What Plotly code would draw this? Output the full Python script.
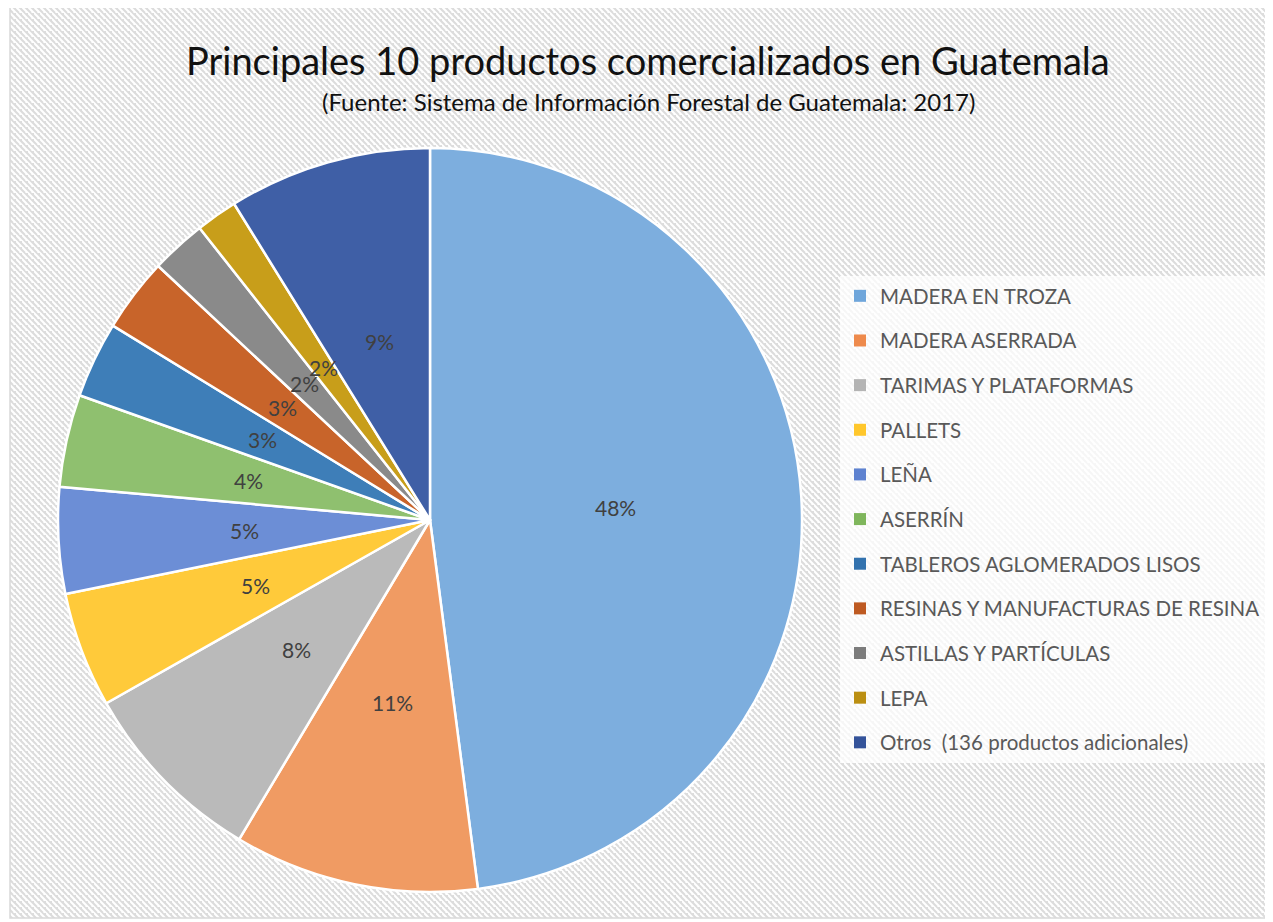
import plotly.graph_objects as go
import base64
import math

# ---- data ----
categories = [
    "MADERA EN TROZA",
    "MADERA ASERRADA",
    "TARIMAS Y PLATAFORMAS",
    "PALLETS",
    "LEÑA",
    "ASERRÍN",
    "TABLEROS AGLOMERADOS LISOS",
    "RESINAS Y MANUFACTURAS DE RESINA",
    "ASTILLAS Y PARTÍCULAS",
    "LEPA",
    "Otros  (136 productos adicionales)",
]
shares = [47.8, 10.6, 8.2, 5.0, 4.6, 4.0, 3.3, 3.2, 2.4, 1.8, 8.8]
colors = ["#7DAEDE", "#F09B63", "#BABABA", "#FFCA3A", "#6C8ED6", "#8FC06F",
          "#3E7EB8", "#C8642A", "#8A8A8A", "#C89E1A", "#3F5FA6"]
legend_colors = ["#6FA6DB", "#EE8A4C", "#B4B4B4", "#FFC72C", "#5E82D0", "#7FB65C",
                 "#3272AE", "#BE5A22", "#7C7C7C", "#BB8F12", "#34539A"]

title = "Principales 10 productos comercializados en Guatemala"
subtitle = "(Fuente: Sistema de Información Forestal de Guatemala: 2017)"

# page body has an 8px margin: the figure is sized/offset to fill the window
OFF = 8
W, H = 1273 - OFF, 922 - OFF
FONT = "Lato, 'Noto Sans', sans-serif"


def px(x):
    return (x - OFF) / W


def py(y):
    return 1 - (y - OFF) / H


# hatch background (diagonal light-gray stripes)
fx0, fy0, fx1, fy1 = 10, 7, 1269, 918
svg = f'''<svg xmlns="http://www.w3.org/2000/svg" width="{fx1-fx0}" height="{fy1-fy0}">
<defs><pattern id="p" width="6" height="6" patternUnits="userSpaceOnUse">
<rect width="6" height="6" fill="#ffffff"/>
<path d="M-3,0 L3,6 M0,-3 L9,6 M3,-3 L9,3" stroke="#dcdcdc" stroke-width="2"/>
</pattern></defs>
<rect width="100%" height="100%" fill="url(#p)"/></svg>'''
src = "data:image/svg+xml;base64," + base64.b64encode(svg.encode()).decode()

cx, cy, R = 430, 520, 372
dom = dict(x=[px(cx - R), px(cx + R)], y=[py(cy + R), py(cy - R)])

fig = go.Figure()
fig.add_trace(go.Pie(
    labels=categories,
    values=shares,
    sort=False,
    direction="clockwise",
    rotation=0,
    marker=dict(colors=colors, line=dict(color="white", width=2.5)),
    textinfo="none",
    showlegend=False,
    hoverinfo="label+percent",
    domain=dict(x=dom["x"], y=dom["y"]),
))

# percentage labels at half radius along each slice's bisector
total = sum(shares)
pct_annotations, acc = [], 0.0
for v in shares:
    ang = math.radians((acc + v / 2) / total * 360)
    acc += v
    lx = cx + 0.5 * R * math.sin(ang)
    ly = cy - 0.5 * R * math.cos(ang)
    pct_annotations.append(dict(
        text=f"{round(v / total * 100)}%", x=px(lx), y=py(ly),
        xref="paper", yref="paper", showarrow=False,
        xanchor="center", yanchor="middle",
        font=dict(family=FONT, size=21, color="#404040"),
    ))

for i, (name, c) in enumerate(zip(categories, legend_colors)):
    fig.add_trace(go.Scatter(
        x=[None], y=[None], mode="markers", name=name,
        marker=dict(symbol="square", size=8, color=c),
        legendgroup=f"g{i}", showlegend=True,
    ))

fig.update_layout(
    width=W, height=H,
    margin=dict(l=0, r=0, t=0, b=0),
    paper_bgcolor="white",
    plot_bgcolor="rgba(0,0,0,0)",
    xaxis=dict(visible=False),
    yaxis=dict(visible=False),
    legend=dict(
        x=px(840), y=py(276), xanchor="left", yanchor="top",
        bgcolor="rgba(255,255,255,0.75)",
        font=dict(family=FONT, size=20.5, color="#595959"),
        tracegroupgap=15,
        itemsizing="constant",
        traceorder="grouped",
    ),
    images=[dict(
        source=src, xref="paper", yref="paper",
        x=px(fx0), y=py(fy0), sizex=(fx1 - fx0) / W, sizey=(fy1 - fy0) / H,
        xanchor="left", yanchor="top", sizing="stretch", layer="below",
    )],
    shapes=[dict(type="rect", xref="paper", yref="paper",
                 x0=px(fx0), x1=px(fx1), y0=py(fy1), y1=py(fy0),
                 line=dict(color="#D9D9D9", width=1.5), layer="below")],
    annotations=[
        dict(text=title, x=px(648), y=py(60), xref="paper", yref="paper",
             showarrow=False, font=dict(family=FONT, size=38, color="#111111"),
             xanchor="center", yanchor="middle"),
        dict(text=subtitle, x=px(648), y=py(101), xref="paper", yref="paper",
             showarrow=False, font=dict(family=FONT, size=24, color="#111111"),
             xanchor="center", yanchor="middle"),
    ] + pct_annotations,
)

fig.write_html("out.html")
